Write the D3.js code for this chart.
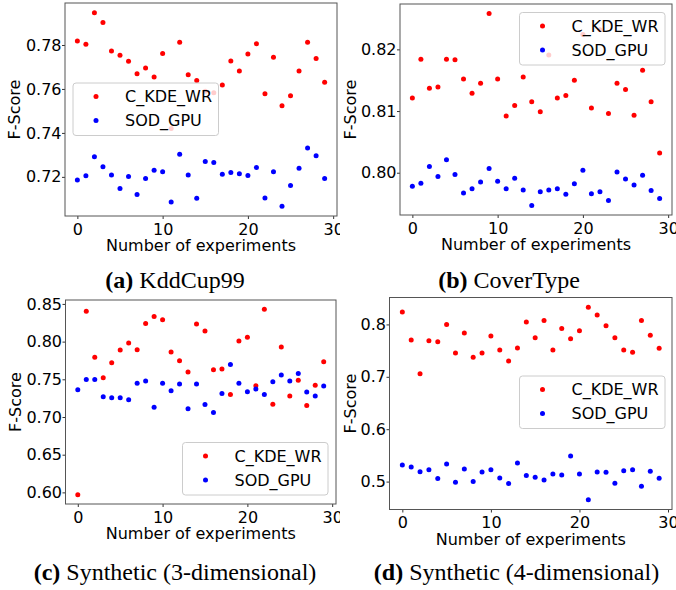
<!DOCTYPE html>
<html>
<head>
<meta charset="utf-8">
<script src="https://cdn.jsdelivr.net/npm/d3@7/dist/d3.min.js"></script>
<style>
  html, body { margin: 0; padding: 0; background: #fff; }
  svg { display: block; }
</style>
</head>
<body>
<div id="chart"></div>
<script>
// ---------------- DATA ----------------
const experiments = [0,1,2,3,4,5,6,7,8,9,10,11,12,13,14,15,16,17,18,19,20,21,22,23,24,25,26,27,28,29];
const seriesNames = ["C_KDE_WR", "SOD_GPU"];
const xTicks = [0, 10, 20, 30];

// (a) KddCup99
const kddC = [0.7818,0.7803,0.7947,0.7902,0.7773,0.7753,0.7726,0.7669,0.7695,0.7654,0.7761,0.7420,0.7812,0.7665,0.7638,0.7590,0.7583,0.7618,0.7727,0.7682,0.7759,0.7806,0.7578,0.7744,0.7524,0.7569,0.7682,0.7812,0.7738,0.7630];
const kddS = [0.7186,0.7205,0.7291,0.7246,0.7209,0.7147,0.7202,0.7120,0.7192,0.7230,0.7223,0.7086,0.7303,0.7209,0.7103,0.7270,0.7265,0.7212,0.7220,0.7214,0.7206,0.7243,0.7104,0.7223,0.7066,0.7161,0.7239,0.7331,0.7296,0.7192];
const kddYTicks = [0.72, 0.74, 0.76, 0.78];

// (b) CoverType
const coverC = [0.8121,0.8184,0.8137,0.8139,0.8184,0.8183,0.8152,0.8129,0.8145,0.8258,0.8152,0.8092,0.8109,0.8155,0.8115,0.8099,0.8191,0.8121,0.8125,0.8150,0.8224,0.8105,0.8232,0.8096,0.8145,0.8135,0.8093,0.8166,0.8115,0.8032];
const coverS = [0.7978,0.7983,0.8010,0.7994,0.8021,0.7997,0.7967,0.7974,0.7985,0.8007,0.7986,0.7974,0.7991,0.7972,0.7947,0.7969,0.7972,0.7974,0.7965,0.7982,0.8004,0.7966,0.7969,0.7955,0.8001,0.7990,0.7980,0.7996,0.7971,0.7958];
const coverYTicks = [0.80, 0.81, 0.82];

// (c) Synthetic 3-dimensional
const syn3C = [0.5969,0.8402,0.7791,0.7522,0.7720,0.7889,0.7982,0.7893,0.8240,0.8333,0.8289,0.7862,0.7747,0.7596,0.8235,0.8142,0.7627,0.7636,0.7298,0.8009,0.8058,0.7414,0.8429,0.7169,0.7929,0.7280,0.7487,0.7151,0.7420,0.7732];
const syn3S = [0.7362,0.7496,0.7496,0.7269,0.7256,0.7256,0.7229,0.7447,0.7478,0.7131,0.7447,0.7349,0.7438,0.7109,0.7438,0.7167,0.7060,0.7313,0.7695,0.7447,0.7336,0.7371,0.7300,0.7469,0.7558,0.7478,0.7576,0.7331,0.7278,0.7411];
const syn3YTicks = [0.60, 0.65, 0.70, 0.75, 0.80, 0.85];

// (d) Synthetic 4-dimensional
const syn4C = [0.8235,0.7702,0.7057,0.7689,0.7670,0.8000,0.7455,0.7835,0.7372,0.7455,0.7778,0.7512,0.7303,0.7550,0.8044,0.7746,0.8076,0.7512,0.7924,0.7727,0.7880,0.8330,0.8178,0.7975,0.7746,0.7512,0.7467,0.8076,0.7791,0.7543];
const syn4S = [0.5317,0.5279,0.5190,0.5228,0.5057,0.5336,0.4987,0.5241,0.5000,0.5184,0.5228,0.5070,0.4962,0.5355,0.5114,0.5082,0.5032,0.5146,0.5127,0.5488,0.5146,0.4651,0.5184,0.5178,0.4968,0.5209,0.5228,0.4911,0.5197,0.5063];
const syn4YTicks = [0.5, 0.6, 0.7, 0.8];

const captionLetters = ["(a)", "(b)", "(c)", "(d)"];
const captionTitles = ["KddCup99", "CoverType", "Synthetic (3-dimensional)", "Synthetic (4-dimensional)"];
const xLabel = "Number of experiments";
const yLabel = "F-Score";

// ---------------- LAYOUT ----------------
const W = 676, H = 590;
const colors = ["#ff0000", "#0000ff"];
const sansFont = "DejaVu Sans";
const serifFont = "Liberation Serif";

const panels = [
  { red: kddC, blue: kddS, yTicks: kddYTicks, fmt: ".2f",
    frame: {x0: 65, x1: 337, y0: 3, y1: 216}, yLabelX: 20, clipRight: 340,
    legend: {x: 73, y: 83}, cap: {x: 175, y: 288} },
  { red: coverC, blue: coverS, yTicks: coverYTicks, fmt: ".2f",
    frame: {x0: 400, x1: 672, y0: 4, y1: 215}, yLabelX: 356, clipRight: 676,
    legend: {x: 519.5, y: 12.5}, cap: {x: 509, y: 288} },
  { red: syn3C, blue: syn3S, yTicks: syn3YTicks, fmt: ".2f",
    frame: {x0: 65.5, x1: 336, y0: 300, y1: 504}, yLabelX: 20.5, clipRight: 340,
    legend: {x: 182.5, y: 442.5}, cap: {x: 175, y: 580} },
  { red: syn4C, blue: syn4S, yTicks: syn4YTicks, fmt: ".1f",
    frame: {x0: 389.5, x1: 672, y0: 297.5, y1: 509.5}, yLabelX: 356, clipRight: 676,
    legend: {x: 519.5, y: 376}, cap: {x: 516.5, y: 580} }
];

const svg = d3.select("#chart").append("svg")
  .attr("width", W).attr("height", H)
  .attr("viewBox", `0 0 ${W} ${H}`);
svg.append("rect").attr("width", W).attr("height", H).attr("fill", "#fff");

const defs = svg.append("defs");

panels.forEach((p, i) => {
  const f = p.frame;
  const clipId = "clip" + i;
  defs.append("clipPath").attr("id", clipId)
    .append("rect")
    .attr("x", i % 2 === 0 ? 0 : 338).attr("y", 0)
    .attr("width", p.clipRight - (i % 2 === 0 ? 0 : 338)).attr("height", H);

  const g = svg.append("g").attr("clip-path", `url(#${clipId})`);

  // scales with matplotlib-like 5% margins
  const xExt = d3.extent(experiments);
  const xPad = (xExt[1] - xExt[0]) * 0.05;
  const x = d3.scaleLinear().domain([xExt[0] - xPad, xExt[1] + xPad]).range([f.x0, f.x1]);
  const yExt = d3.extent(p.red.concat(p.blue));
  const yPad = (yExt[1] - yExt[0]) * 0.05;
  const y = d3.scaleLinear().domain([yExt[0] - yPad, yExt[1] + yPad]).range([f.y1, f.y0]);

  // points
  [p.red, p.blue].forEach((vals, si) => {
    g.append("g").selectAll("circle")
      .data(vals)
      .join("circle")
      .attr("cx", (d, k) => x(experiments[k]))
      .attr("cy", d => y(d))
      .attr("r", 2.5)
      .attr("fill", colors[si]);
  });

  // axes
  const xAxis = d3.axisBottom(x).tickValues(xTicks).tickSize(3).tickPadding(4.5).tickFormat(d3.format("d"));
  const yAxis = d3.axisLeft(y).tickValues(p.yTicks).tickSize(3).tickPadding(0.5).tickFormat(d3.format(p.fmt));

  const gx = g.append("g").attr("transform", `translate(0,${f.y1})`).call(xAxis);
  const gy = g.append("g").attr("transform", `translate(${f.x0},0)`).call(yAxis);
  [gx, gy].forEach(ax => {
    ax.select(".domain").remove();
    ax.selectAll(".tick line").attr("stroke", "#333");
    ax.selectAll(".tick text")
      .attr("font-family", sansFont).attr("font-size", 16).attr("fill", "#000");
  });

  // frame
  g.append("rect")
    .attr("x", f.x0).attr("y", f.y0)
    .attr("width", f.x1 - f.x0).attr("height", f.y1 - f.y0)
    .attr("fill", "none").attr("stroke", "#555").attr("stroke-width", 1);

  // axis labels
  g.append("text")
    .attr("x", (f.x0 + f.x1) / 2).attr("y", f.y1 + 35)
    .attr("text-anchor", "middle")
    .attr("font-family", sansFont).attr("font-size", 16)
    .text(xLabel);
  g.append("text")
    .attr("transform", `translate(${p.yLabelX},${(f.y0 + f.y1) / 2}) rotate(-90)`)
    .attr("text-anchor", "middle")
    .attr("font-family", sansFont).attr("font-size", 16)
    .text(yLabel);

  // legend
  const lg = g.append("g").attr("transform", `translate(${p.legend.x},${p.legend.y})`);
  lg.append("rect")
    .attr("width", 145.5).attr("height", 52.5).attr("rx", 3)
    .attr("fill", "#fff").attr("fill-opacity", 0.8)
    .attr("stroke", "#cccccc").attr("stroke-width", 1);
  seriesNames.forEach((name, si) => {
    const ry = 13.5 + si * 24;
    lg.append("circle").attr("cx", 23).attr("cy", ry).attr("r", 2.5).attr("fill", colors[si]);
    lg.append("text")
      .attr("x", 52).attr("y", ry).attr("dy", "0.36em")
      .attr("font-family", sansFont).attr("font-size", 16).attr("fill", "#000")
      .text(name);
  });

  // caption
  const cap = svg.append("text")
    .attr("x", p.cap.x).attr("y", p.cap.y)
    .attr("text-anchor", "middle")
    .attr("font-family", serifFont).attr("font-size", 24).attr("fill", "#000");
  cap.append("tspan").attr("font-weight", "bold").text(captionLetters[i]);
  cap.append("tspan").text(" " + captionTitles[i]);
});
</script>
</body>
</html>
